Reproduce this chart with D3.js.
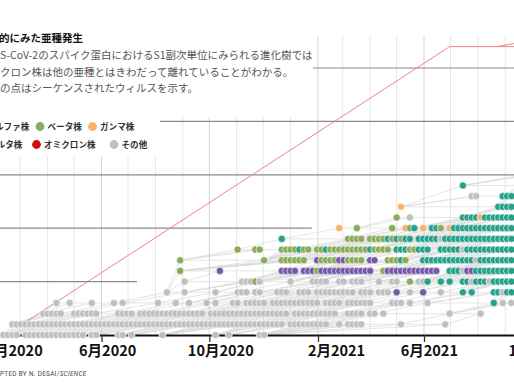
<!DOCTYPE html>
<html>
<head>
<meta charset="utf-8">
<script src="https://cdn.jsdelivr.net/npm/d3@7"></script>
<style>
  body { margin: 0; background: #fff; }
  svg { display: block; font-family: "Noto Sans CJK JP", "Noto Sans", sans-serif; }
</style>
</head>
<body>
<div id="chart"></div>
<script>
var svgWidth = 514;
var svgHeight = 386;

// x axis ticks (every 4 months) and where their labels sit
var tickDates = ["2020-02-01", "2020-06-01", "2020-10-01", "2021-02-01", "2021-06-01", "2021-10-01"];
var tickLabels = ["2月2020", "6月2020", "10月2020", "2月2021", "6月2021", "10月2021"];
var labelDates = ["2020-02-23", "2020-06-08", "2020-10-14", "2021-02-22", "2021-06-07", "2021-10-12"];

// horizontal reference lines (distance) and where they stop
var gridLevels = [5, 10, 15, 20, 25];
var gridEnds = ["2020-07-11", "2021-01-25", null, null, null];

// variant categories
var catCodes = ["t", "p", "b", "o", "r", "g"];
var catColors = {
  t: "#25a08b",  // teal
  p: "#7559a7",  // purple
  b: "#8aab5c",  // green
  o: "#fbb166",  // orange
  r: "#cc1010",  // red
  g: "#bfbfbf"   // gray
};

// legend
var legendRow1 = ["アルファ株", "ベータ株", "ガンマ株"];
var legendRow1Cats = ["p", "b", "o"];
var legendRow2 = ["デルタ株", "オミクロン株", "その他"];
var legendRow2Cats = ["t", "r", "g"];

// sampled viruses: one string per distance row (row index = distance)
// token "slot:codes", slot = 5-day step from 1 Feb 2020, "." = no sample
var slotStart = "2020-02-01";
var slotDays = 5;
var rows = [
  "2:gggg 7:gggggggggggggg 22:gg 28:gg.g 38:g 50:g 53:g 60:gg",
  "4:gggggggggg 14:gggggggggg 24:gggggggggg 34:gggggggggg 44:gggggggggg 54:gggggggggg 64:gg 67:ggggggggg 78:g.gggg 92:g 102:g",
  "11:ggggg 18:gggggg 28:gggg 33:gggggggggg 43:ggggg.gggg 53:gggggggggg 63:gggg.ggggg 73:ggggg 80:gggg 85:gg.g 103:g 110:g",
  "14:g..g 22:g 27:g.g 37:g 41:g 44:g 48:g.g 54:gg.gggg 61:g.gggggggg 71:ggg.ggg 78:g.gggg 84:gg 90:ggg 94:g 98:g 113:t.g.g",
  "39:g...g 50:g 55:ggg.gg 64:ggg..ggg.ggggg 78:gggg.ggg.ggg 91:p..g..p...g....t.t 113:ttgtt",
  "43:g 56:gggbg 67:g 72:gggg 78:gg 81:ggg 87:g 90:gg 94:b.ggt 101:t.t..ttgtttgttttt",
  "42:b 51:p 65:pppp.ppp 73:b 74:ppppppp 81:ppppp 88:b 89:ppppppppp 98:ppp 103:tttgpp 109:ttttttttt",
  "42:b 61:b 65:bbbbbb 73:pbbbb 78:pp 80:bbbb 85:pp 89:bbbtb 97:ttt 100:tttttt 106:tttgtttttttt",
  "55:b 59:bb 65:bbbbtbb 73:bbtbbbb 80:bbbbbtbbbb 91:tttbb 96:ttt 101:tttttgttttttttttt",
  "65:t 80:bbbb 85:bbbbtbtbtt 96:tttttgtttt 106:tttttttttttt",
  "78:o 82:b 90:b..obt.o.ttb.ot 105:ttttttttttttt",
  "91:b..g 106:ttttottttttt",
  "92:o 114:tttt",
  "108:gg 115:ttt",
  "106:t 119:tt",
  "120:ttt",
  "122:tt",
  "124:tt"
];

// long omicron branch (date, distance)
var omicronDates = ["2020-03-03", "2021-06-30", "2021-12-15"];
var omicronDist = [1, 27, 27];
var omicronSubDates = ["2021-08-22", "2021-10-29"];
var omicronSubDist = [27, 28];

var parseDate = d3.timeParse("%Y-%m-%d");

var svg = d3.select("#chart")
  .append("svg")
  .attr("width", svgWidth)
  .attr("height", svgHeight);

var x = d3.scaleTime()
  .domain([new Date(2020, 1, 1), new Date(2021, 11, 1)])
  .range([-5.4, 585.7]);

var y = d3.scaleLinear()
  .domain([0, 25])
  .range([335, 68]);

// build samples
var dots = [];
var start = parseDate(slotStart);
rows.forEach(function(str, k) {
  str.split(" ").forEach(function(tok) {
    var p = tok.split(":");
    var s = +p[0];
    p[1].split("").forEach(function(c, j) {
      if (c !== ".") {
        dots.push({ row: k, date: d3.timeDay.offset(start, (s + j) * slotDays), cat: c });
      }
    });
  });
});

// tree: each sample hangs off an earlier sample one step lower
var byRow = d3.group(dots, d => d.row);
dots.forEach(function(d) {
  for (var k = d.row - 1; k >= 0; k--) {
    var cand = (byRow.get(k) || []).filter(p => p.date < d.date);
    if (!cand.length) continue;
    var same = cand.filter(p => p.cat === d.cat);
    if (same.length) cand = same;
    var target = +d.date - 60 * 864e5;
    d.parent = d3.least(cand, p => Math.abs(p.date - target));
    break;
  }
});

// monthly vertical grid
var months = d3.timeMonth.range(new Date(2020, 1, 1), new Date(2021, 11, 2));
var tickSet = tickDates.map(t => +parseDate(t));
svg.append("g")
  .selectAll("line")
  .data(months)
  .enter()
  .append("line")
  .attr("x1", d => x(d))
  .attr("x2", d => x(d))
  .attr("y1", 36)
  .attr("y2", 335)
  .attr("stroke", d => tickSet.indexOf(+d) >= 0 ? "#d4d4d4" : "#e6e6e6")
  .attr("stroke-width", 1);

// horizontal reference lines
svg.append("g")
  .selectAll("line")
  .data(gridLevels)
  .enter()
  .append("line")
  .attr("x1", x.range()[0])
  .attr("x2", (d, i) => gridEnds[i] ? x(parseDate(gridEnds[i])) : svgWidth)
  .attr("y1", d => y(d))
  .attr("y2", d => y(d))
  .attr("stroke", "#8a8a8a")
  .attr("stroke-width", 1.2);

// tree branches
var treeGroup = svg.append("g")
  .attr("stroke", "#d3d3d3")
  .attr("stroke-width", 0.7)
  .attr("fill", "none")
  .attr("opacity", 0.8);

treeGroup.selectAll("line.branch")
  .data(dots.filter(d => d.parent))
  .enter()
  .append("line")
  .attr("class", "branch")
  .attr("x1", d => x(d.parent.date))
  .attr("y1", d => y(d.parent.row))
  .attr("x2", d => x(d.date))
  .attr("y2", d => y(d.row));

var rowSpans = Array.from(byRow, ([k, v]) => ({ row: k, min: d3.min(v, d => d.date), max: d3.max(v, d => d.date) }))
  .filter(d => d.row > 0);
treeGroup.selectAll("line.span")
  .data(rowSpans)
  .enter()
  .append("line")
  .attr("class", "span")
  .attr("x1", d => x(d.min))
  .attr("x2", d => x(d.max))
  .attr("y1", d => y(d.row))
  .attr("y2", d => y(d.row));

// omicron branch
var line = d3.line()
  .x(d => x(d[0]))
  .y(d => y(d[1]));

svg.append("path")
  .datum(omicronDates.map((d, i) => [parseDate(d), omicronDist[i]]))
  .attr("d", line)
  .attr("fill", "none")
  .attr("stroke", "#ee8585")
  .attr("stroke-width", 1);

svg.append("path")
  .datum(omicronSubDates.map((d, i) => [parseDate(d), omicronSubDist[i]]))
  .attr("d", line)
  .attr("fill", "none")
  .attr("stroke", "#ee8585")
  .attr("stroke-width", 1);

// x axis
var bottomAxis = d3.axisBottom(x)
  .tickValues(tickDates.map(parseDate))
  .tickSize(7)
  .tickSizeOuter(0)
  .tickFormat("");

var xAxis = svg.append("g")
  .attr("transform", `translate(0, ${y(0)})`)
  .call(bottomAxis);
xAxis.select(".domain").attr("stroke", "#111").attr("stroke-width", 2);
xAxis.selectAll(".tick line").attr("stroke", "#333").attr("stroke-width", 1.3);

svg.append("g")
  .selectAll("text")
  .data(tickLabels)
  .enter()
  .append("text")
  .attr("x", (d, i) => x(parseDate(labelDates[i])))
  .attr("y", 356)
  .attr("text-anchor", "middle")
  .attr("font-size", "14.5px")
  .attr("font-weight", 700)
  .attr("fill", "#111")
  .text(d => d);

// samples
svg.append("g")
  .selectAll("circle")
  .data(dots)
  .enter()
  .append("circle")
  .attr("cx", d => x(d.date))
  .attr("cy", d => y(d.row))
  .attr("r", 3.6)
  .attr("fill", d => catColors[d.cat])
  .attr("stroke", "#fff")
  .attr("stroke-width", 0.6);

// white panels behind title and legend
svg.append("rect").attr("x", 0).attr("y", 0).attr("width", 313).attr("height", 117).attr("fill", "#fff");
svg.append("rect").attr("x", 0).attr("y", 0).attr("width", 160).attr("height", 156).attr("fill", "#fff");

// title and notes
svg.append("text")
  .attr("x", -1)
  .attr("y", 42)
  .attr("font-size", "10.5px")
  .attr("font-weight", 700)
  .attr("fill", "#111")
  .text("的にみた亜種発生");

var notes = [
  "S-CoV-2のスパイク蛋白におけるS1副次単位にみられる進化樹では",
  "クロン株は他の亜種とはきわだって離れていることがわかる。",
  "の点はシーケンスされたウィルスを示す。"
];
svg.append("g")
  .selectAll("text")
  .data(notes)
  .enter()
  .append("text")
  .attr("x", 0)
  .attr("y", (d, i) => 59 + i * 16.5)
  .attr("font-size", "10.5px")
  .attr("fill", "#555")
  .text(d => d);

// legend
function drawLegend(labels, cats, rowY, markerXs) {
  var g = svg.append("g");
  labels.forEach(function(lab, i) {
    g.append("circle")
      .attr("cx", markerXs[i])
      .attr("cy", rowY)
      .attr("r", 4.4)
      .attr("fill", catColors[cats[i]]);
    g.append("text")
      .attr("x", markerXs[i] + 7.5)
      .attr("y", rowY + 3.2)
      .attr("font-size", "8.6px")
      .attr("font-weight", 700)
      .attr("fill", "#333")
      .text(lab);
  });
}
drawLegend(legendRow1, legendRow1Cats, 126.5, [-21, 40, 92.5]);
drawLegend(legendRow2, legendRow2Cats, 144.5, [-19.5, 36.5, 114]);

// credit
var credit = svg.append("text")
  .attr("x", 0)
  .attr("y", 375.5)
  .attr("font-family", "Roboto, 'Liberation Sans', sans-serif")
  .attr("font-size", "6.3px")
  .attr("letter-spacing", "0.35px")
  .attr("fill", "#444");
credit.append("tspan").text("PTED BY N. DESAI/");
credit.append("tspan").attr("font-style", "italic").text("SCIENCE");
</script>
</body>
</html>
